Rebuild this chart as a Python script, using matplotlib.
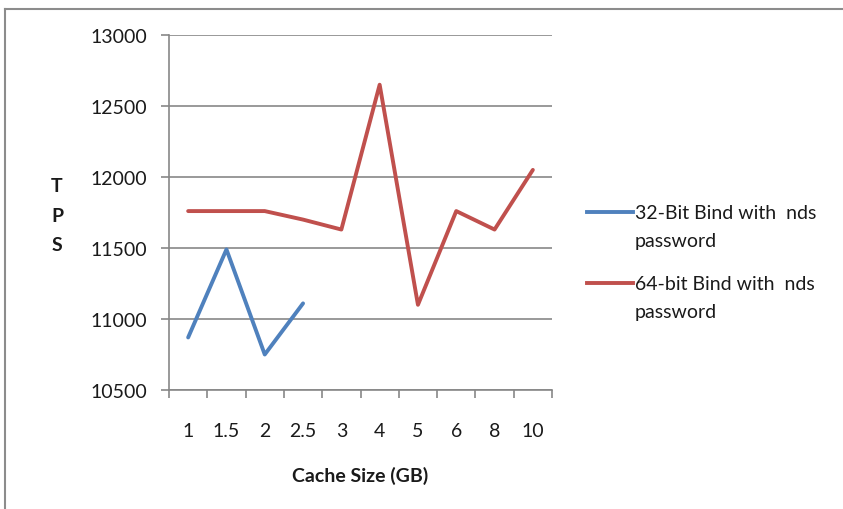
import numpy as np
import matplotlib.pyplot as plt
from matplotlib.lines import Line2D

# cache sizes (GB) and measured throughput
cache_sizes = ["1", "1.5", "2", "2.5", "3", "4", "5", "6", "8", "10"]
tps_32bit = [10870, 11490, 10750, 11110]
tps_64bit = [11760, 11760, 11760, 11700, 11630, 12650, 11100, 11760, 11630, 12050]

label_32 = "32-Bit Bind with  nds\npassword"
label_64 = "64-bit Bind with  nds\npassword"

blue = "#4F81BD"
red = "#C0504D"
axis_grey = "#878787"
text_col = "#1a1a1a"
fs = 14

plt.rcParams["font.family"] = ["Lato", "DejaVu Sans"]

fig = plt.figure(figsize=(8.43, 5.10), dpi=100)
ax = fig.add_axes([169 / 843, 1 - 391 / 510, 383 / 843, 355 / 510])

x = np.arange(len(cache_sizes))
ax.plot(x[:len(tps_32bit)], tps_32bit, color=blue, linewidth=2.8, solid_capstyle="round", zorder=3)
ax.plot(x, tps_64bit, color=red, linewidth=2.8, solid_capstyle="round", zorder=3)

ax.set_xlim(-0.5, len(cache_sizes) - 0.5)
ax.set_ylim(10500, 13000)
ax.set_yticks(np.arange(10500, 13001, 500))
ax.yaxis.grid(True, color=axis_grey, linewidth=1.2)
ax.set_axisbelow(True)

# category boundaries get the tick marks, labels sit at the centres
ax.set_xticks(np.arange(-0.5, len(cache_sizes)), minor=False)
ax.set_xticklabels([])
ax.set_xticks(x, minor=True)
ax.set_xticklabels(cache_sizes, minor=True)
ax.tick_params(axis="x", which="major", length=6, width=1.2, color=axis_grey, direction="out")
ax.tick_params(axis="x", which="minor", length=0, pad=23, labelsize=fs, labelcolor=text_col)
ax.tick_params(axis="y", length=6, width=1.2, color=axis_grey, pad=10, labelsize=fs, labelcolor=text_col)

for side in ["top", "right"]:
    ax.spines[side].set_visible(False)
for side in ["left", "bottom"]:
    ax.spines[side].set_color(axis_grey)
    ax.spines[side].set_linewidth(1.2)

# axis titles
fig.text(57 / 843, 1 - 216 / 510, "T\nP\nS", ha="center", va="center",
         fontsize=fs, fontweight="bold", color=text_col, linespacing=1.9)
fig.text(360 / 843, 1 - 476 / 510, "Cache Size (GB)", ha="center", va="center",
         fontsize=fs, fontweight="bold", color=text_col)

# legend entries
for y_px, col, lab in [(213, blue, label_32), (284, red, label_64)]:
    fy = 1 - y_px / 510
    fig.add_artist(Line2D([587 / 843, 633 / 843], [fy, fy], color=col, linewidth=2.8,
                          transform=fig.transFigure))
    fig.text(635 / 843, fy + 8 / 510, lab, ha="left", va="top", fontsize=fs,
             color=text_col, linespacing=1.8)

# chart frame
fig.add_artist(Line2D([5 / 843, 1.0], [1 - 10 / 510, 1 - 10 / 510], color="#8c8c8c",
                      linewidth=1.5, transform=fig.transFigure))
fig.add_artist(Line2D([5 / 843, 5 / 843], [0, 1 - 10 / 510], color="#8c8c8c",
                      linewidth=1.5, transform=fig.transFigure))

fig.savefig("out.png", dpi=100)
